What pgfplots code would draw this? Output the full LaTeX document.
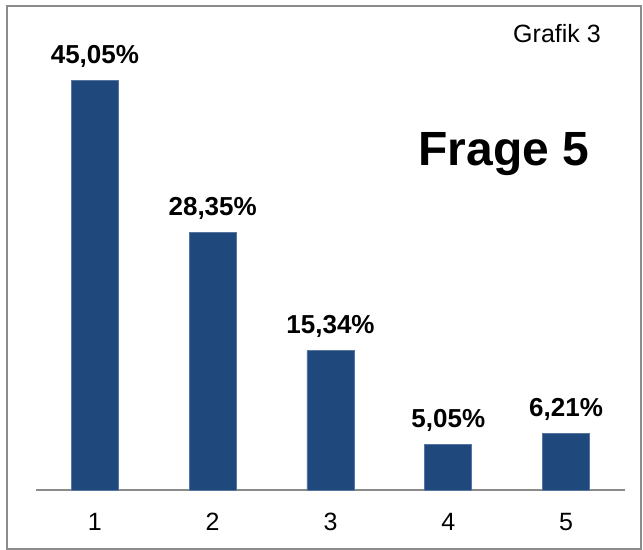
\documentclass[border=0pt]{standalone}
\usepackage{pgfplots}
\pgfplotsset{compat=1.18}
\usepackage{fontspec}
\setmainfont{Liberation Sans}
\definecolor{barblue}{RGB}{31,73,125}
\definecolor{framegray}{RGB}{140,140,140}
\begin{document}
\begin{tikzpicture}
\useasboundingbox (0,0) rectangle (321.5pt,275pt);
\draw[framegray, line width=1pt] (3.5pt,0.5pt) rectangle (320.5pt,272pt);
\begin{axis}[
  at={(18pt,30pt)}, anchor=south west,
  scale only axis,
  width=294.5pt, height=227.5pt,
  xmin=0.5, xmax=5.5, ymin=0, ymax=50,
  axis x line=bottom, axis y line=none,
  x axis line style={-, framegray, line width=1pt},
  xtick={1,2,3,4,5}, xticklabels={1,2,3,4,5},
  major tick length=0pt,
  xticklabel style={anchor=base, yshift=-20.5pt, font=\fontsize{12.5}{14}\selectfont},
  ybar, bar width=23.5pt,
  /pgf/number format/assume math mode=true,
  nodes near coords={\pgfmathprintnumber[fixed, fixed zerofill, precision=2, use comma, assume math mode=true]{\pgfplotspointmeta}\%},
  every node near coord/.append style={anchor=base, yshift=8.5pt, font=\bfseries\fontsize{13}{15}\selectfont, text=black},
  clip=false,
]
\addplot[fill=barblue, draw=barblue!75!white, line width=0.4pt] coordinates {(1,45.05) (2,28.35) (3,15.34) (4,5.05) (5,6.21)};
\end{axis}
\node[anchor=base, font=\fontsize{12.5}{14}\selectfont] at (278.5pt,253.5pt) {Grafik 3};
\node[anchor=base, font=\bfseries\fontsize{24}{28}\selectfont] at (252pt,192pt) {Frage 5};
\end{tikzpicture}
\end{document}
